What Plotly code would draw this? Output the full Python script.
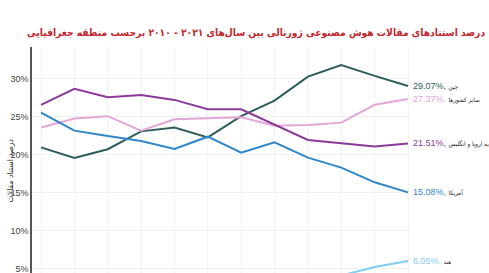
import plotly.graph_objects as go

years = list(range(2010, 2022))

china = [21.0, 19.6, 20.75, 23.1, 23.6, 22.3, 25.1, 27.15, 30.3, 31.84, 30.4, 29.07]
others = [23.6, 24.8, 25.1, 23.2, 24.7, 24.8, 24.96, 23.85, 23.95, 24.25, 26.6, 27.37]
eu_uk = [26.58, 28.7, 27.6, 27.9, 27.24, 26.0, 26.0, 23.95, 21.97, 21.54, 21.1, 21.51]
usa = [25.57, 23.2, 22.5, 21.84, 20.8, 22.4, 20.3, 21.67, 19.64, 18.33, 16.4, 15.08]
india = [2.5, 2.7, 3.0, 3.1, 3.3, 3.4, 3.6, 3.8, 3.9, 4.15, 5.25, 6.05]

names = ["چین", "سایر کشورها", "اتحادیه اروپا و انگلیس", "آمریکا", "هند"]
series = [china, others, eu_uk, usa, india]
colors = ["#2e5e5a", "#e2a6d9", "#8b3a9b", "#2f86c9", "#7fcdf0"]

title_text = "درصد استنادهای مقالات هوش مصنوعی ژورنالی بین سال‌های ۲۰۲۱ - ۲۰۱۰ برحسب منطقه جغرافیایی"
ytitle_text = "درصد استناد مقالات"
yticks = [5, 10, 15, 20, 25, 30]
ytick_labels = ["5%", "10%", "15%", "20%", "25%", "30%"]

AR_FONT = "DejaVu Sans Condensed, DejaVu Sans, sans-serif"

fig = go.Figure()
for vals, nm, c in zip(series, names, colors):
    fig.add_trace(go.Scatter(x=years, y=vals, mode="lines", name=nm,
                             line=dict(color=c, width=2), hoverinfo="skip"))

annotations = []
for vals, nm, c in zip(series, names, colors):
    annotations.append(dict(
        x=years[-1], y=vals[-1], xref="x", yref="y", xanchor="left", yanchor="middle",
        xshift=3, showarrow=False,
        text=f"<span style='color:{c}'>{vals[-1]:.2f}%,</span> "
             f"<span style='color:#222;font-size:6.3px;font-family:DejaVu Sans Condensed, DejaVu Sans'>{nm}</span>",
        font=dict(size=9, family="Liberation Sans, Arial, sans-serif"),
    ))

annotations.append(dict(
    x=1.204, y=1.062, xref="paper", yref="paper", xanchor="right", yanchor="middle",
    showarrow=False, text=f"<b>{title_text}</b>",
    font=dict(size=10.2, color="#c1272d", family=AR_FONT),
))
annotations.append(dict(
    x=-0.058, y=0.45, xref="paper", yref="paper", xanchor="center", yanchor="middle",
    showarrow=False, textangle=-90, text=ytitle_text,
    font=dict(size=8.5, color="#333", family=AR_FONT),
))

fig.update_layout(
    width=489, height=273,
    margin=dict(l=32, r=79, t=47, b=0, autoexpand=False),
    paper_bgcolor="white", plot_bgcolor="white",
    showlegend=False,
    annotations=annotations,
    font=dict(family="Liberation Sans, Arial, sans-serif", size=9, color="#444"),
)
fig.update_xaxes(range=[2009.73, 2021.06], showgrid=True, gridcolor="#f3f3f3", gridwidth=1,
                 tickvals=years, showticklabels=False, zeroline=False, showline=False,
                 ticks="", automargin=False)
fig.update_yaxes(range=[4.47, 34.2], tickvals=yticks, ticktext=ytick_labels,
                 showgrid=True, gridcolor="#f1f1f1", gridwidth=1, zeroline=False,
                 showline=True, linecolor="#555", linewidth=1.5, ticks="",
                 automargin=False, ticklabeloverflow="allow",
                 tickfont=dict(size=9, color="#444"))

fig.write_html("out.html", config={"displayModeBar": False},
               post_script="document.body.style.margin='0px';")
